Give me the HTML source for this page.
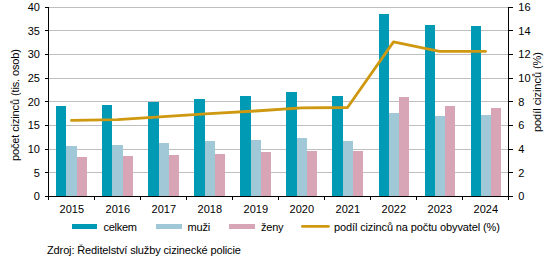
<!DOCTYPE html><html><head><meta charset="utf-8"><style>html,body{margin:0;padding:0;background:#fff;width:546px;height:263px;overflow:hidden}svg{display:block}</style></head><body><svg width="546" height="263" viewBox="0 0 546 263">
<rect width="546" height="263" fill="#fff"/>
<g shape-rendering="crispEdges">
<rect x="49" y="7" width="459" height="1" fill="#bfbfbf"/>
<rect x="49" y="30" width="459" height="1" fill="#bfbfbf"/>
<rect x="49" y="54" width="459" height="1" fill="#bfbfbf"/>
<rect x="49" y="78" width="459" height="1" fill="#bfbfbf"/>
<rect x="49" y="101" width="459" height="1" fill="#bfbfbf"/>
<rect x="49" y="125" width="459" height="1" fill="#bfbfbf"/>
<rect x="49" y="149" width="459" height="1" fill="#bfbfbf"/>
<rect x="49" y="172" width="459" height="1" fill="#bfbfbf"/>
<rect x="56" y="106" width="10" height="90" fill="#009ab4"/>
<rect x="66" y="146" width="11" height="50" fill="#a1c8d7"/>
<rect x="77" y="157" width="10" height="39" fill="#d7a5b5"/>
<rect x="102" y="105" width="10" height="91" fill="#009ab4"/>
<rect x="112" y="145" width="11" height="51" fill="#a1c8d7"/>
<rect x="123" y="156" width="10" height="40" fill="#d7a5b5"/>
<rect x="148" y="102" width="11" height="94" fill="#009ab4"/>
<rect x="159" y="143" width="10" height="53" fill="#a1c8d7"/>
<rect x="169" y="155" width="10" height="41" fill="#d7a5b5"/>
<rect x="194" y="99" width="11" height="97" fill="#009ab4"/>
<rect x="205" y="141" width="10" height="55" fill="#a1c8d7"/>
<rect x="215" y="154" width="10" height="42" fill="#d7a5b5"/>
<rect x="240" y="96" width="11" height="100" fill="#009ab4"/>
<rect x="251" y="140" width="10" height="56" fill="#a1c8d7"/>
<rect x="261" y="152" width="10" height="44" fill="#d7a5b5"/>
<rect x="286" y="92" width="11" height="104" fill="#009ab4"/>
<rect x="297" y="138" width="10" height="58" fill="#a1c8d7"/>
<rect x="307" y="151" width="10" height="45" fill="#d7a5b5"/>
<rect x="332" y="96" width="11" height="100" fill="#009ab4"/>
<rect x="343" y="141" width="10" height="55" fill="#a1c8d7"/>
<rect x="353" y="151" width="10" height="45" fill="#d7a5b5"/>
<rect x="379" y="14" width="10" height="182" fill="#009ab4"/>
<rect x="389" y="113" width="10" height="83" fill="#a1c8d7"/>
<rect x="399" y="97" width="10" height="99" fill="#d7a5b5"/>
<rect x="425" y="25" width="10" height="171" fill="#009ab4"/>
<rect x="435" y="116" width="10" height="80" fill="#a1c8d7"/>
<rect x="445" y="106" width="10" height="90" fill="#d7a5b5"/>
<rect x="471" y="26" width="10" height="170" fill="#009ab4"/>
<rect x="481" y="115" width="10" height="81" fill="#a1c8d7"/>
<rect x="491" y="108" width="10" height="88" fill="#d7a5b5"/>
</g>
<polyline points="71.50,120.40 117.50,119.60 163.50,116.70 209.50,113.60 255.50,111.00 301.50,107.80 347.50,107.50 393.50,41.90 439.50,51.40 485.50,51.40" fill="none" stroke="#ce9810" stroke-width="2.8" stroke-linecap="round" stroke-linejoin="round"/>
<g shape-rendering="crispEdges" fill="#000">
<rect x="48" y="7" width="1" height="190"/>
<rect x="508" y="7" width="1" height="190"/>
<rect x="48" y="196" width="461" height="1"/>
<rect x="45" y="7" width="3" height="1"/>
<rect x="509" y="7" width="4" height="1"/>
<rect x="45" y="30" width="3" height="1"/>
<rect x="509" y="30" width="4" height="1"/>
<rect x="45" y="54" width="3" height="1"/>
<rect x="509" y="54" width="4" height="1"/>
<rect x="45" y="78" width="3" height="1"/>
<rect x="509" y="78" width="4" height="1"/>
<rect x="45" y="101" width="3" height="1"/>
<rect x="509" y="101" width="4" height="1"/>
<rect x="45" y="125" width="3" height="1"/>
<rect x="509" y="125" width="4" height="1"/>
<rect x="45" y="149" width="3" height="1"/>
<rect x="509" y="149" width="4" height="1"/>
<rect x="45" y="172" width="3" height="1"/>
<rect x="509" y="172" width="4" height="1"/>
<rect x="45" y="196" width="3" height="1"/>
<rect x="509" y="196" width="4" height="1"/>
<rect x="48" y="197" width="1" height="3"/>
<rect x="94" y="197" width="1" height="3"/>
<rect x="140" y="197" width="1" height="3"/>
<rect x="186" y="197" width="1" height="3"/>
<rect x="232" y="197" width="1" height="3"/>
<rect x="278" y="197" width="1" height="3"/>
<rect x="324" y="197" width="1" height="3"/>
<rect x="370" y="197" width="1" height="3"/>
<rect x="416" y="197" width="1" height="3"/>
<rect x="462" y="197" width="1" height="3"/>
<rect x="508" y="197" width="1" height="3"/>
</g>
<g font-family="Liberation Sans, sans-serif" font-size="11" fill="#000">
<text x="39.9" y="11" text-anchor="end">40</text>
<text x="518.3" y="11">16</text>
<text x="39.9" y="35" text-anchor="end">35</text>
<text x="518.3" y="35">14</text>
<text x="39.9" y="58" text-anchor="end">30</text>
<text x="518.3" y="58">12</text>
<text x="39.9" y="82" text-anchor="end">25</text>
<text x="518.3" y="82">10</text>
<text x="39.9" y="106" text-anchor="end">20</text>
<text x="518.3" y="106">8</text>
<text x="39.9" y="129" text-anchor="end">15</text>
<text x="518.3" y="129">6</text>
<text x="39.9" y="153" text-anchor="end">10</text>
<text x="518.3" y="153">4</text>
<text x="39.9" y="177" text-anchor="end">5</text>
<text x="518.3" y="177">2</text>
<text x="39.9" y="200" text-anchor="end">0</text>
<text x="518.3" y="200">0</text>
<text x="71.80" y="213" text-anchor="middle">2015</text>
<text x="117.80" y="213" text-anchor="middle">2016</text>
<text x="163.80" y="213" text-anchor="middle">2017</text>
<text x="209.80" y="213" text-anchor="middle">2018</text>
<text x="255.80" y="213" text-anchor="middle">2019</text>
<text x="301.80" y="213" text-anchor="middle">2020</text>
<text x="347.80" y="213" text-anchor="middle">2021</text>
<text x="393.80" y="213" text-anchor="middle">2022</text>
<text x="439.80" y="213" text-anchor="middle">2023</text>
<text x="485.80" y="213" text-anchor="middle">2024</text>
<text transform="translate(18.7,105) rotate(-90)" text-anchor="middle" textLength="112.00" lengthAdjust="spacing">počet cizinců (tis. osob)</text>
<text transform="translate(541,92) rotate(-90)" text-anchor="middle" textLength="80.10" lengthAdjust="spacing">podíl cizinců (%)</text>
</g>
<rect x="72" y="224" width="25" height="5" fill="#009ab4" shape-rendering="crispEdges"/>
<rect x="156" y="224" width="26" height="5" fill="#a1c8d7" shape-rendering="crispEdges"/>
<rect x="229" y="224" width="26" height="5" fill="#d7a5b5" shape-rendering="crispEdges"/>
<line x1="302.4" x2="328.4" y1="226.4" y2="226.4" stroke="#ce9810" stroke-width="2.8" stroke-linecap="round"/>
<g font-family="Liberation Sans, sans-serif" font-size="11" fill="#000">
<text x="103.5" y="231" textLength="33.50" lengthAdjust="spacing">celkem</text>
<text x="187.5" y="231" textLength="22.70" lengthAdjust="spacing">muži</text>
<text x="261" y="231" textLength="22.55" lengthAdjust="spacing">ženy</text>
<text x="334" y="231" textLength="165.80" lengthAdjust="spacing">podíl cizinců na počtu obyvatel (%)</text>
<text x="47" y="253.5" textLength="193.90" lengthAdjust="spacing">Zdroj: Ředitelství služby cizinecké policie</text>
</g>
</svg></body></html>
